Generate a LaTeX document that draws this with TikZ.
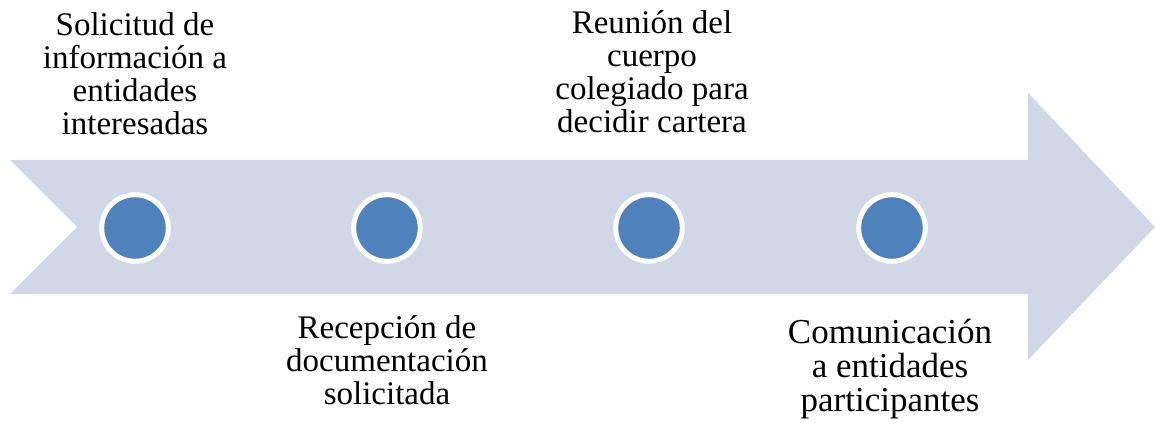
\documentclass[tikz,border=0pt]{standalone}
\usepackage{fontspec}
\setmainfont{Liberation Serif}
\usepackage{tikz}
\usetikzlibrary{positioning}
\usetikzlibrary{calc}
\definecolor{bandfill}{RGB}{208,216,232}
\definecolor{dotblue}{RGB}{79,129,189}
\tikzstyle{band}=[fill=bandfill,draw=none]
\tikzstyle{stepdot}=[shape=circle,fill=dotblue,draw=white,line width=5pt,inner sep=0pt,minimum size=66.6pt]
\tikzstyle{steptext}=[black,anchor=north,inner sep=0pt,align=center,font=\fontsize{33}{33}\selectfont]

\begin{document}
\begin{tikzpicture}[x=1pt,y=-1pt]

	\useasboundingbox (0,0) rectangle (1155,427);

	% Arrow
	\fill[band] (10,160) -- (1028,160) -- (1028,93) -- (1155,227) -- (1028,360) -- (1028,294) -- (10,294) -- (77,227) -- cycle;

	% Steps
	\node[stepdot] (dsolicitud) at (135,228) {};
	\node[stepdot] (drecepcion) at (387,228) {};
	\node[stepdot] (dreunion) at (649,228) {};
	\node[stepdot] (dcomunicacion) at (892,228) {};

	% Labels
	\node[steptext] (lsolicitud) at (135,12.5) {Solicitud de\\información a\\entidades\\interesadas};
	\node[steptext] (lrecepcion) at (387,315.5) {Recepción de\\documentación\\solicitada};
	\node[steptext] (lreunion) at (652,10.5) {Reunión del\\cuerpo\\colegiado para\\decidir cartera};
	\node[steptext, font=\fontsize{35}{34}\selectfont] (lcomunicacion) at (890,319) {Comunicación\\a entidades\\participantes};

\end{tikzpicture}
\end{document}
